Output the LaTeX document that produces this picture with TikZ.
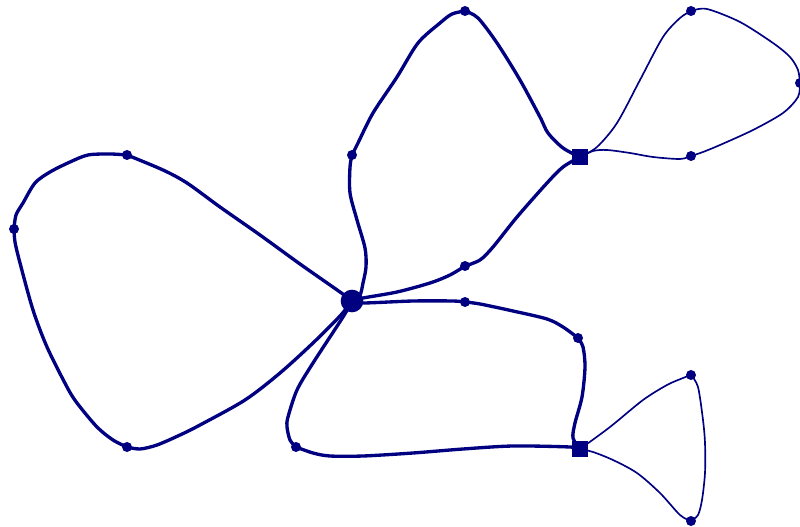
\documentclass[tikz,border=0pt]{standalone}
\usetikzlibrary{backgrounds}
\definecolor{nv}{RGB}{0,0,128}
\tikzset{
 dot/.style={circle,fill=nv,inner sep=0pt,minimum size=7.5pt},
 hub/.style={circle,fill=nv,inner sep=0pt,minimum size=17pt},
 sq/.style={rectangle,fill=nv,inner sep=0pt,minimum size=12pt},
 thk/.style={draw=nv,line width=2.5pt,line join=round,line cap=round},
 thn/.style={draw=nv,line width=1.25pt,line join=round,line cap=round},
 sm/.style={smooth,tension=0.5},
}
\begin{document}
\begin{tikzpicture}[x=0.75pt,y=-0.75pt]
\useasboundingbox (0,0) rectangle (800,527);
\node[hub] (C) at (352,301) {};
\node[dot] (L1) at (127,155) {};
\node[dot] (L2) at (14,229) {};
\node[dot] (L3) at (127,447) {};
\node[dot] (U1) at (352,155) {};
\node[dot] (U2) at (465,11) {};
\node[sq] (S1) at (580,157) {};
\node[dot] (U3) at (465,266) {};
\node[dot] (B1) at (465,302) {};
\node[dot] (B2) at (578,338) {};
\node[sq] (S2) at (580,449) {};
\node[dot] (B3) at (296,447) {};
\node[dot] (R1) at (691,11) {};
\node[dot] (R2) at (800,83) {};
\node[dot] (R3) at (691,156) {};
\node[dot] (Q1) at (691,375) {};
\node[dot] (Q2) at (691,521) {};
\begin{scope}[on background layer]
% left loop
\draw[thk] plot[sm] coordinates {(C) (340,292) (300,264) (260,235) (220,207) (187,183) (163,170) (L1)};
\draw[thk] plot[sm] coordinates {(L1) (110,154) (88,155) (70,162) (50,172) (35,183) (23,203) (16,215) (L2)};
\draw[thk] plot[sm] coordinates {(L2) (15,242) (20,263) (33,310) (47,347) (67,387) (77,403) (97,427) (113,440) (L3)};
\draw[thk] plot[sm] coordinates {(L3) (140,449) (157,445) (180,435) (200,425) (245,400) (280,373) (313,343) (340,316) (C)};
% upper loop
\draw[thk] plot[sm] coordinates {(C) (360,295) (363,283) (366,267) (365,248) (357,220) (350,193) (350,167) (U1)};
\draw[thk] plot[sm] coordinates {(U1) (358,143) (373,113) (397,77) (418,43) (440,23) (452,14) (U2)};
\draw[thk] plot[sm] coordinates {(U2) (478,18) (497,43) (520,80) (540,117) (548,133) (563,148) (S1)};
\draw[thk] plot[sm] coordinates {(S1) (563,167) (547,183) (517,217) (493,247) (480,260) (U3)};
\draw[thk] plot[sm] coordinates {(U3) (450,275) (430,283) (397,292) (363,298) (C)};
% lower loop
\draw[thk] plot[sm] coordinates {(C) (363,303) (413,301) (453,301) (B1)};
\draw[thk] plot[sm] coordinates {(B1) (480,304) (513,311) (547,319) (563,327) (B2)};
\draw[thk] plot[sm] coordinates {(B2) (583,347) (585,367) (582,397) (575,423) (573,438) (S2)};
\draw[thk] plot[sm] coordinates {(S2) (570,447) (513,446) (463,449) (413,453) (363,456) (330,456) (313,453) (B3)};
\draw[thk] plot[sm] coordinates {(B3) (290,440) (287,427) (288,417) (297,390) (313,363) (343,317) (C)};
% upper right thin loop
\draw[thn] plot[sm] coordinates {(S1) (597,147) (617,123) (640,80) (663,37) (680,18) (R1)};
\draw[thn] plot[sm] coordinates {(R1) (707,9) (740,22) (773,43) (790,57) (798,70) (R2)};
\draw[thn] plot[sm] coordinates {(R2) (798,97) (783,113) (753,130) (720,145) (703,152) (R3)};
\draw[thn] plot[sm] coordinates {(R3) (680,159) (653,157) (630,153) (607,150) (593,151) (S1)};
% lower right thin loop
\draw[thn] plot[sm] coordinates {(S2) (610,427) (643,400) (667,385) (683,378) (Q1)};
\draw[thn] plot[sm] coordinates {(Q1) (698,387) (703,420) (705,443) (705,473) (702,500) (698,515) (Q2)};
\draw[thn] plot[sm] coordinates {(Q2) (680,515) (660,493) (637,473) (613,460) (593,452) (S2)};
\end{scope}
\end{tikzpicture}
\end{document}
